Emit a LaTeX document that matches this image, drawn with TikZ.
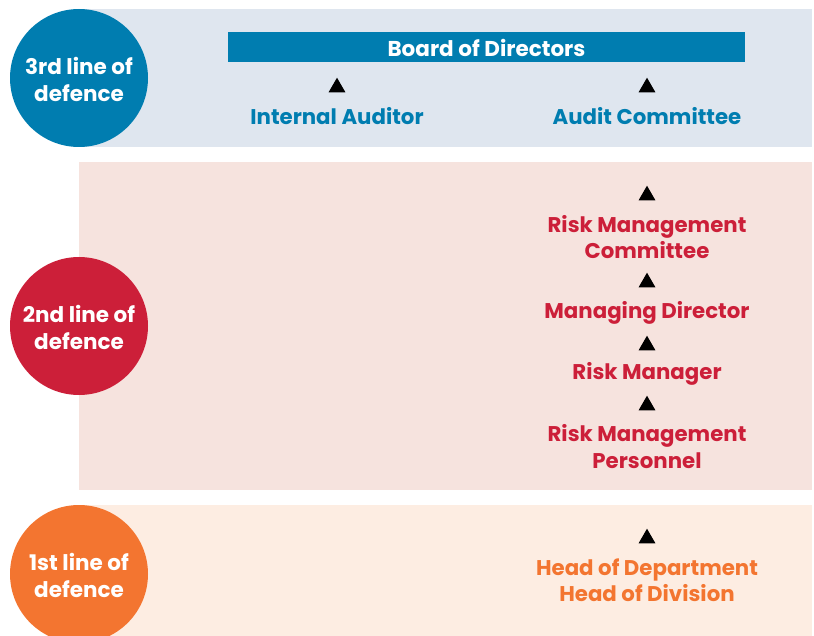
\documentclass[tikz,border=0pt]{standalone}
\usepackage{fontspec}
\setmainfont{Poppins}
\usetikzlibrary{shapes.geometric}
\definecolor{cblue}{HTML}{007DB0}
\definecolor{cred}{HTML}{CC1F39}
\definecolor{corange}{HTML}{F37530}
\definecolor{bblue}{HTML}{DFE6EF}
\definecolor{bpink}{HTML}{F6E3DE}
\definecolor{bpeach}{HTML}{FDEDE2}
\tikzset{
  lbl/.style={align=center, inner sep=0pt, font=\bfseries\fontsize{21.3}{26.5}\selectfont},
  ring/.style={circle, minimum size=138pt, inner sep=0pt},
  circtxt/.style={align=center, inner sep=0pt, text=white, yshift=-1.5pt, font=\bfseries\fontsize{21.5}{27}\selectfont},
  tri/.style={regular polygon, regular polygon sides=3, fill=black, minimum size=19.6pt, inner sep=0pt, outer sep=0pt},
}
\begin{document}
\begin{tikzpicture}[x=1pt,y=-1pt]
\useasboundingbox (0,0) rectangle (814,636);
% bands
\fill[bblue] (79,9) rectangle (812,147);
\fill[bpink] (79,162) rectangle (812,490);
\fill[bpeach] (79,505) rectangle (812,636);
% circles
\node[ring, fill=cblue, label={[circtxt]center:3rd line of\\defence}] (c3) at (79,78) {};
\node[ring, fill=cred, label={[circtxt]center:2nd line of\\defence}] (c2) at (79,326) {};
\node[ring, fill=corange, label={[circtxt]center:1st line of\\defence}] (c1) at (79,574) {};
% third line
\node[fill=cblue, minimum width=517pt, minimum height=30pt, inner sep=0pt, text=white, font=\bfseries\fontsize{21.5}{24}\selectfont] (bod) at (486.5,47.5) {Board of Directors};
\node[tri] (t1) at (337,87.5) {};
\node[tri] (t2) at (647,87.5) {};
\node[lbl, text=cblue] (ia) at (337,116) {Internal Auditor};
\node[lbl, text=cblue] (ac) at (647,116) {Audit Committee};
% second line
\node[tri] (t3) at (647,195.5) {};
\node[lbl, text=cred] (rmc) at (647,237) {Risk Management\\Committee};
\node[tri] (t4) at (647,282.5) {};
\node[lbl, text=cred] (md) at (647,312.5) {Managing Director};
\node[tri] (t5) at (647,345.5) {};
\node[lbl, text=cred] (rm) at (647,373.5) {Risk Manager};
\node[tri] (t6) at (647,405.5) {};
\node[lbl, text=cred] (rmp) at (647,446.5) {Risk Management\\Personnel};
% first line
\node[tri] (t7) at (647,538.5) {};
\node[lbl, text=corange] (hd) at (647,580) {Head of Department\\Head of Division};
\end{tikzpicture}
\end{document}
